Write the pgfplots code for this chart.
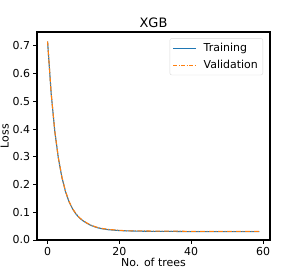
\documentclass[border=0pt]{standalone}
\usepackage{pgfplots}
\pgfplotsset{compat=1.18}
\usepackage{fontspec}
\setmainfont{DejaVu Sans}
\definecolor{mplblue}{HTML}{1F77B4}
\definecolor{mplorange}{HTML}{FF7F0E}
\pgfplotstableread{
x y
0 0.715
1 0.528
2 0.392
3 0.295
4 0.225
5 0.174
6 0.137
7 0.111
8 0.092
9 0.078
10 0.068
11 0.060
12 0.053
13 0.048
14 0.044
15 0.041
16 0.039
17 0.037
18 0.036
19 0.035
20 0.034
22 0.033
25 0.032
30 0.031
35 0.031
40 0.030
45 0.030
50 0.030
55 0.030
59 0.030
}\train
\pgfplotstableread{
x y
0 0.716
1 0.529
2 0.393
3 0.296
4 0.226
5 0.175
6 0.138
7 0.112
8 0.093
9 0.079
10 0.069
11 0.061
12 0.054
13 0.049
14 0.045
15 0.042
16 0.040
17 0.038
18 0.037
19 0.036
20 0.035
22 0.033
25 0.033
30 0.032
35 0.032
40 0.031
45 0.031
50 0.031
55 0.031
59 0.031
}\valid
\begin{document}
\begin{tikzpicture}
\useasboundingbox (-37bp,-30bp) rectangle (263bp,240bp);
\begin{axis}[
  at={(0,0)}, anchor=south west,
  scale only axis, width=233bp, height=208bp,
  xmin=-2.95, xmax=61.95, ymin=0, ymax=0.75,
  xtick={0,20,40,60}, ytick={0,0.1,...,0.7},
  yticklabel style={/pgf/number format/.cd, fixed, fixed zerofill, precision=1},
  /pgf/number format/assume math mode=true,
  tick align=outside, tick pos=lower,
  major tick length=3.5bp,
  tick style={black, line width=0.8pt},
  axis line style={line width=1.2pt},
  ticklabel style={font=\fontsize{11}{13}\selectfont},
  label style={font=\fontsize{11}{13}\selectfont},
  xlabel={No. of trees}, ylabel={Loss},
  xlabel style={yshift=4bp}, ylabel style={yshift=-3bp},
  title={XGB}, title style={font=\fontsize{13}{15}\selectfont, yshift=-5bp},
  legend style={at={(0.97,0.97)}, anchor=north east, draw=black!15, rounded corners=2pt,
    font=\fontsize{11}{13}\selectfont, row sep=3pt, inner sep=3pt},
  legend cell align=left,
  legend image code/.code={\draw[#1] (0bp,0bp) -- (23bp,0bp); \path (28bp,0bp);},
]
\addplot[mplblue, line width=1.1pt, forget plot] table {\train};
\addplot[mplorange, line width=1.1pt, dash pattern=on 5pt off 1.5pt on 1pt off 1.5pt, forget plot] table {\valid};
\addlegendimage{color=mplblue, line width=0.9pt}
\addlegendentry{Training}
\addlegendimage{color=mplorange, line width=0.9pt, dash pattern=on 4pt off 1.5pt on 1pt off 1.5pt}
\addlegendentry{Validation}
\end{axis}
\end{tikzpicture}
\end{document}
